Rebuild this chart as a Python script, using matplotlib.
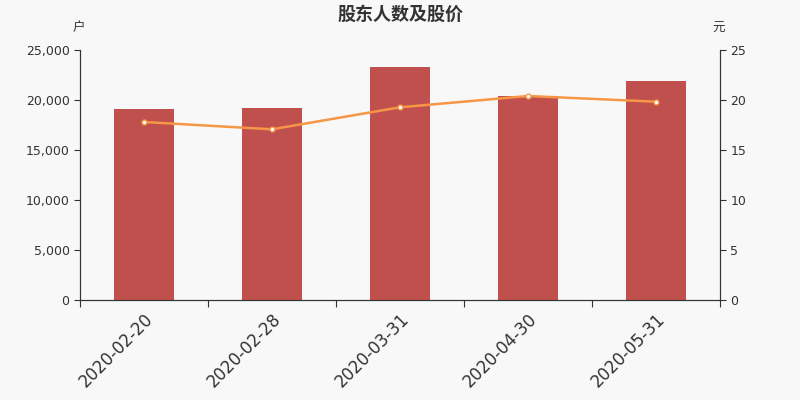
import numpy as np
import matplotlib
matplotlib.use("Agg")
import matplotlib.pyplot as plt
from matplotlib.ticker import FuncFormatter

plt.rcParams['font.family'] = ['DejaVu Sans', 'Noto Sans CJK SC']

dates = ['2020-02-20', '2020-02-28', '2020-03-31', '2020-04-30', '2020-05-31']
holders = [19100, 19200, 23300, 20400, 21900]
price = [17.8, 17.07, 19.27, 20.4, 19.83]

bg = '#f8f8f8'
axis_col = '#333333'

fig = plt.figure(figsize=(8, 4), dpi=100, facecolor=bg)
ax = fig.add_axes([0.1, 0.25, 0.8, 0.625], facecolor=bg)
x = np.arange(len(dates))
ax.bar(x, holders, width=0.47, color='#c0504d', zorder=2)
ax.set_xlim(-0.5, len(dates) - 0.5)
ax.set_ylim(0, 25000)
ax.set_yticks(np.arange(0, 25001, 5000))
ax.yaxis.set_major_formatter(FuncFormatter(lambda v, p: '{:,.0f}'.format(v)))

ax2 = ax.twinx()
ax2.plot(x, price, color='#f79646', lw=1.8, marker='o', ms=3.5,
         markerfacecolor='white', markeredgecolor='#f79646', markeredgewidth=1, zorder=3)
ax2.set_ylim(0, 25)
ax2.set_yticks(np.arange(0, 26, 5))

for a in (ax, ax2):
    a.spines['top'].set_visible(False)
    for s in ('left', 'right', 'bottom'):
        a.spines[s].set_color(axis_col)
        a.spines[s].set_linewidth(0.8)
    a.tick_params(axis='y', labelsize=9, colors=axis_col, length=4, width=0.8)

ax.set_xticks(x)
ax.set_xticklabels(dates, rotation=45, ha='right', rotation_mode='anchor',
                   fontsize=12, color=axis_col)
ax.tick_params(axis='x', length=0, pad=7)
ax.set_xticks(np.arange(-0.5, len(dates), 1), minor=True)
ax.tick_params(axis='x', which='minor', length=5, width=0.8, color=axis_col)

fig.text(0.5, 0.965, '股东人数及股价', ha='center', va='center',
         fontsize=13, fontweight='bold', color=axis_col, family='Noto Sans CJK SC')
fig.text(0.098, 0.93, '户', ha='center', va='center', fontsize=9, color=axis_col,
         family='Noto Sans CJK SC')
fig.text(0.898, 0.93, '元', ha='center', va='center', fontsize=9, color=axis_col,
         family='Noto Sans CJK SC')

fig.savefig('out.png', dpi=100, facecolor=bg)
